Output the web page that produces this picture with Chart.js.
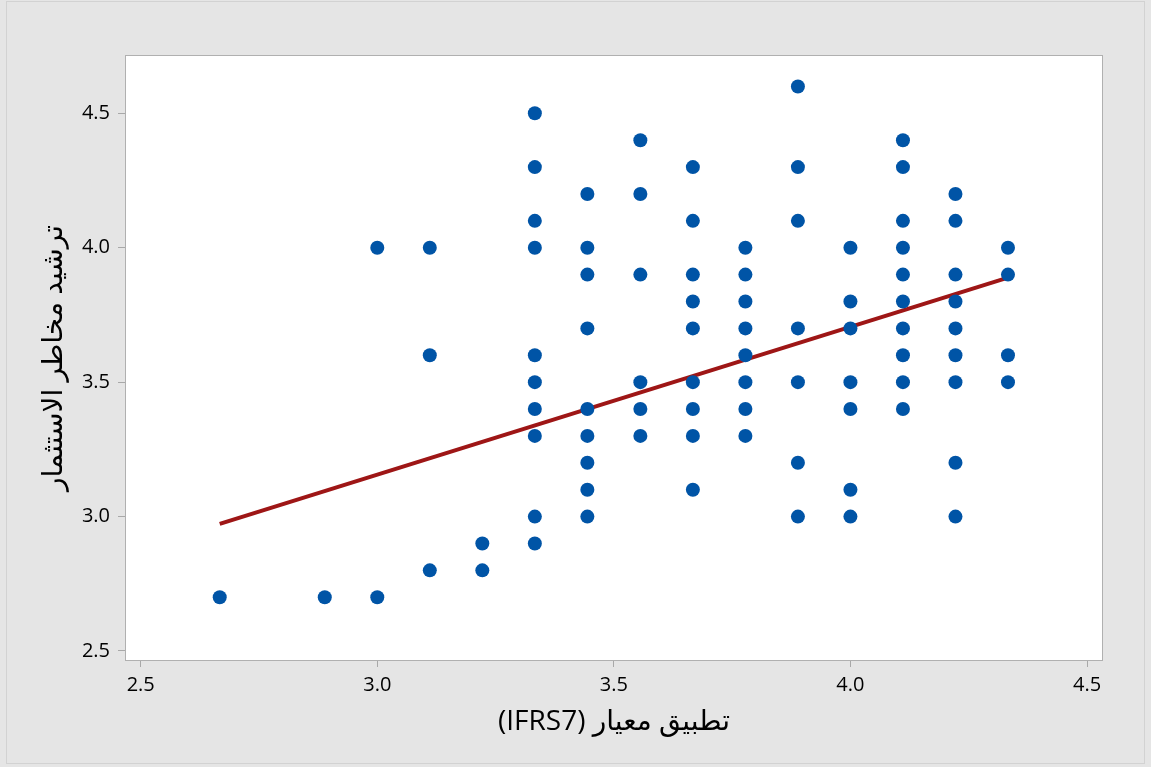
<!DOCTYPE html>
<html>
<head>
<meta charset="utf-8">
<script src="https://cdn.jsdelivr.net/npm/chart.js@4.4.1/dist/chart.umd.min.js"></script>
<style>
  html, body { margin: 0; padding: 0; background: #e5e5e5; }
  #wrap { width: 1151px; height: 767px; }
</style>
</head>
<body>
<div id="wrap"><canvas id="c" width="1151" height="767"></canvas></div>
<script>
// Observations: x (IFRS7 application), y (investment risk rationalisation)
const pointX = [
  2.667,
  2.889,
  3.000, 3.000,
  3.111, 3.111, 3.111,
  3.222, 3.222,
  3.333, 3.333, 3.333, 3.333, 3.333, 3.333, 3.333, 3.333, 3.333, 3.333,
  3.444, 3.444, 3.444, 3.444, 3.444, 3.444, 3.444, 3.444, 3.444,
  3.556, 3.556, 3.556, 3.556, 3.556, 3.556,
  3.667, 3.667, 3.667, 3.667, 3.667, 3.667, 3.667, 3.667, 3.667,
  3.778, 3.778, 3.778, 3.778, 3.778, 3.778, 3.778, 3.778,
  3.889, 3.889, 3.889, 3.889, 3.889, 3.889, 3.889,
  4.000, 4.000, 4.000, 4.000, 4.000, 4.000, 4.000,
  4.111, 4.111, 4.111, 4.111, 4.111, 4.111, 4.111, 4.111, 4.111, 4.111,
  4.222, 4.222, 4.222, 4.222, 4.222, 4.222, 4.222, 4.222, 4.222,
  4.333, 4.333, 4.333, 4.333
];
const pointY = [
  2.7,
  2.7,
  4.0, 2.7,
  4.0, 3.6, 2.8,
  2.9, 2.8,
  4.5, 4.3, 4.1, 4.0, 3.6, 3.5, 3.4, 3.3, 3.0, 2.9,
  4.2, 4.0, 3.9, 3.7, 3.4, 3.3, 3.2, 3.1, 3.0,
  4.4, 4.2, 3.9, 3.5, 3.4, 3.3,
  4.3, 4.1, 3.9, 3.8, 3.7, 3.5, 3.4, 3.3, 3.1,
  4.0, 3.9, 3.8, 3.7, 3.6, 3.5, 3.4, 3.3,
  4.6, 4.3, 4.1, 3.7, 3.5, 3.2, 3.0,
  4.0, 3.8, 3.7, 3.5, 3.4, 3.1, 3.0,
  4.4, 4.3, 4.1, 4.0, 3.9, 3.8, 3.7, 3.6, 3.5, 3.4,
  4.2, 4.1, 3.9, 3.8, 3.7, 3.6, 3.5, 3.2, 3.0,
  4.0, 3.9, 3.6, 3.5
];
// Fitted regression line endpoints
const fitX = [2.667, 4.333];
const fitY = [2.973, 3.889];

const xTicks = [2.5, 3.0, 3.5, 4.0, 4.5];
const yTicks = [2.5, 3.0, 3.5, 4.0, 4.5];

const xTitle = "\u202Bتطبيق معيار (IFRS7)\u202C";
const yTitle = "ترشيد مخاطر الاستثمار";

const points = pointX.map((x, i) => ({ x: x, y: pointY[i] }));
const fitLine = fitX.map((x, i) => ({ x: x, y: fitY[i] }));

const FONT = "'Open Sans', 'Noto Sans', 'DejaVu Sans', sans-serif";

const framePlugin = {
  id: 'frame',
  beforeDraw(chart) {
    const { ctx, chartArea: a, width, height } = chart;
    ctx.save();
    ctx.fillStyle = '#e5e5e5';
    ctx.fillRect(0, 0, width, height);
    ctx.strokeStyle = '#d2d2d2';
    ctx.lineWidth = 1;
    ctx.strokeRect(6.5, 1.5, width - 13, height - 5);
    ctx.fillStyle = '#ffffff';
    ctx.fillRect(a.left, a.top, a.right - a.left, a.bottom - a.top);
    ctx.restore();
  },
  afterDraw(chart) {
    const { ctx, chartArea: a } = chart;
    ctx.save();
    ctx.strokeStyle = '#b0b0b0';
    ctx.lineWidth = 1;
    ctx.strokeRect(Math.round(a.left) + 0.5, Math.round(a.top) + 0.5,
                   Math.round(a.right - a.left) - 1, Math.round(a.bottom - a.top) - 1);
    ctx.restore();
  }
};

new Chart(document.getElementById('c'), {
  type: 'scatter',
  data: {
    datasets: [
      {
        label: 'data',
        data: points,
        backgroundColor: '#0054a6',
        borderColor: '#0054a6',
        pointRadius: 7,
        pointHoverRadius: 7,
        borderWidth: 0,
        order: 0
      },
      {
        label: 'fit',
        data: fitLine,
        showLine: true,
        borderColor: '#9e1616',
        borderWidth: 4,
        pointRadius: 0,
        fill: false,
        order: 1
      }
    ]
  },
  options: {
    responsive: false,
    animation: false,
    events: [],
    layout: { padding: { left: 0, top: 55, right: 48, bottom: 0 } },
    plugins: { legend: { display: false }, tooltip: { enabled: false } },
    scales: {
      x: {
        type: 'linear',
        min: 2.4668,
        max: 4.5338,
        afterBuildTicks(s) { s.ticks = xTicks.map(v => ({ value: v })); },
        afterFit(s) { s.height = 106; },
        ticks: {
          color: '#000000',
          font: { family: FONT, size: 20 },
          padding: 6,
          maxRotation: 0,
          callback: v => Number(v).toFixed(1)
        },
        grid: { display: true, drawOnChartArea: false, drawTicks: true, tickLength: 6, color: '#a8a8a8' },
        border: { display: false },
        title: {
          display: true,
          text: xTitle,
          color: '#000000',
          font: { family: FONT, size: 28 },
          padding: { top: 0, bottom: 28 }
        }
      },
      y: {
        type: 'linear',
        min: 2.4628,
        max: 4.7169,
        afterBuildTicks(s) { s.ticks = yTicks.map(v => ({ value: v })); },
        afterFit(s) { s.width = 125; },
        ticks: {
          color: '#000000',
          font: { family: FONT, size: 20 },
          padding: 8,
          callback: v => Number(v).toFixed(1)
        },
        grid: { display: true, drawOnChartArea: false, drawTicks: true, tickLength: 7, color: '#a8a8a8' },
        border: { display: false },
        title: {
          display: true,
          text: yTitle,
          color: '#000000',
          font: { family: FONT, size: 28 },
          padding: { top: 37, bottom: 0 }
        }
      }
    }
  },
  plugins: [framePlugin]
});
</script>
</body>
</html>
